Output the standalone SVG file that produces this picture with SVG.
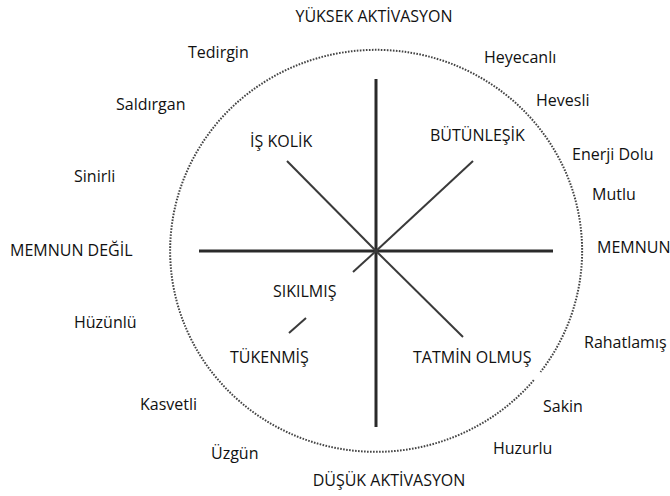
<svg xmlns="http://www.w3.org/2000/svg" width="670" height="496" viewBox="0 0 670 496">
<style>
text{font-family:"Open Sans","Noto Sans","Liberation Sans",sans-serif;font-size:16px;fill:#111}
.ax{stroke:#2a2a2a;stroke-width:3;fill:none}
.dg{stroke:#3a3a3a;stroke-width:2;fill:none}
.rim{stroke:#444;stroke-width:2;stroke-dasharray:1.6 1.4;fill:none}
</style>
<rect width="670" height="496" fill="#fff"/>
<g id="connectors">
<path id="circle" class="rim" d="M 533.8 380.2 A 206 201 0 1 1 540.5 372"/>
<line class="ax" x1="376" y1="79" x2="376" y2="427"/>
<line class="ax" x1="199" y1="251" x2="553" y2="251"/>
<line class="dg" x1="287" y1="161" x2="376" y2="251"/>
<line class="dg" x1="473" y1="161" x2="376" y2="251"/>
<line class="dg" x1="376" y1="251" x2="353" y2="272"/>
<line class="dg" x1="376" y1="251" x2="463" y2="337"/>
<line class="dg" x1="306" y1="318" x2="289" y2="333"/>
</g>
<g id="axis-labels">
<text id="yuksek" x="374" y="22" text-anchor="middle">YÜKSEK AKTİVASYON</text>
<text id="dusuk" x="389" y="486" text-anchor="middle">DÜŞÜK AKTİVASYON</text>
<text id="memnun-degil" x="10" y="256">MEMNUN DEĞİL</text>
<text id="memnun" x="597" y="253">MEMNUN</text>
</g>
<g id="quadrants">
<g id="is-kolik"><text x="250" y="147">İŞ KOLİK</text></g>
<g id="butunlesik"><text x="430" y="141">BÜTÜNLEŞİK</text></g>
<g id="sikilmis"><text x="273" y="297">SIKILMIŞ</text></g>
<g id="tukenmis"><text x="230" y="363">TÜKENMİŞ</text></g>
<g id="tatmin"><text x="413" y="363">TATMİN OLMUŞ</text></g>
</g>
<g id="emotions">
<g id="tedirgin"><text x="188" y="58">Tedirgin</text></g>
<g id="heyecanli"><text x="484" y="63">Heyecanlı</text></g>
<g id="saldirgan"><text x="116" y="110">Saldırgan</text></g>
<g id="hevesli"><text x="536" y="106">Hevesli</text></g>
<g id="enerji"><text x="572" y="160">Enerji Dolu</text></g>
<g id="sinirli"><text x="74" y="182">Sinirli</text></g>
<g id="mutlu"><text x="592" y="200">Mutlu</text></g>
<g id="huzunlu"><text x="74" y="328">Hüzünlü</text></g>
<g id="rahatlamis"><text x="584" y="348">Rahatlamış</text></g>
<g id="kasvetli"><text x="140" y="410">Kasvetli</text></g>
<g id="sakin"><text x="543" y="412">Sakin</text></g>
<g id="huzurlu"><text x="493" y="454">Huzurlu</text></g>
<g id="uzgun"><text x="211" y="459">Üzgün</text></g>
</g>
</svg>
